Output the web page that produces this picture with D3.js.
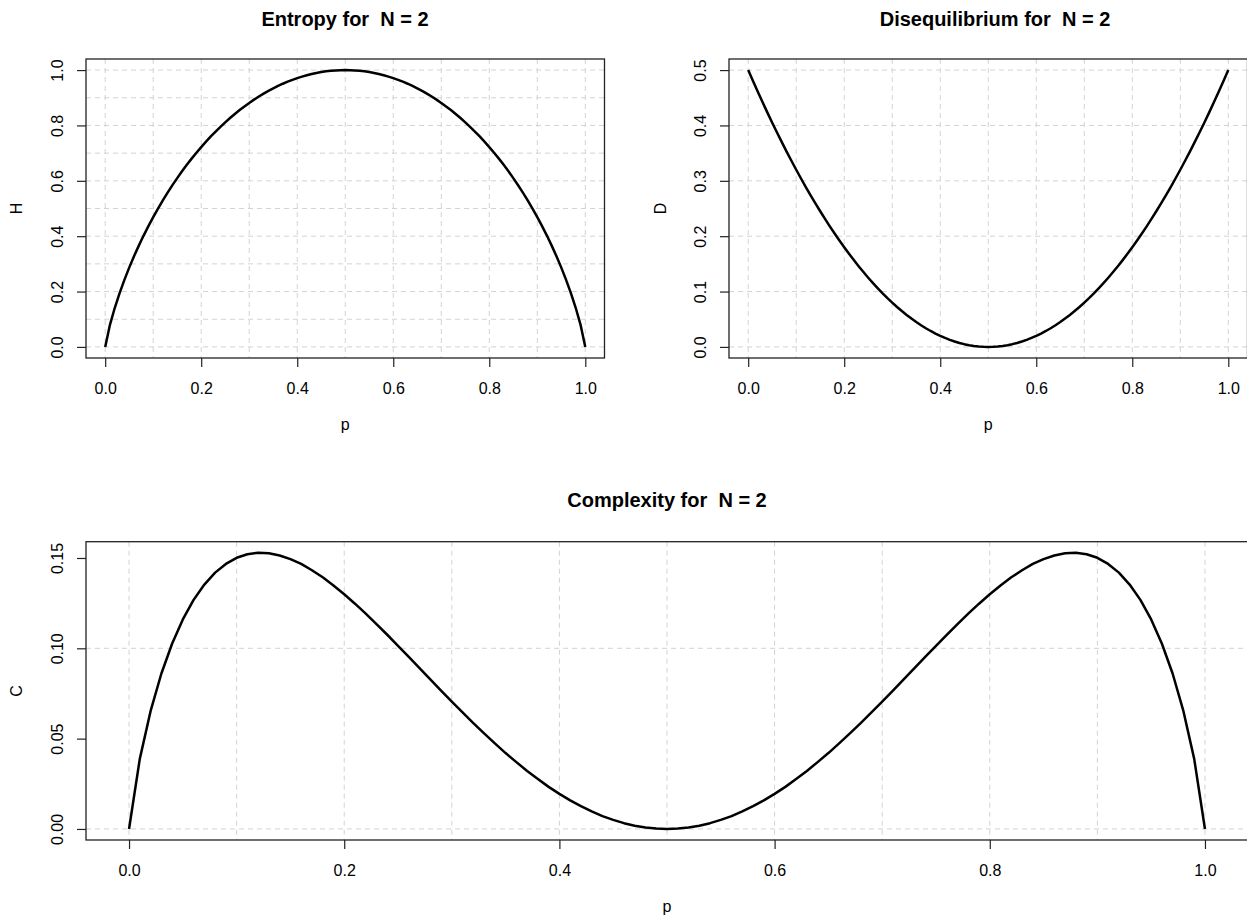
<!DOCTYPE html>
<html>
<head>
<meta charset="utf-8">
<script src="https://cdn.jsdelivr.net/npm/d3@7"></script>
<style>
body { margin: 0; background: #fff; }
svg text { font-family: "Liberation Sans", Arial, sans-serif; fill: #000; white-space: pre; }
</style>
</head>
<body>
<script>
//probability of the first state, sampled in steps of 0.01
var pValues = [
    0.00, 0.01, 0.02, 0.03, 0.04, 0.05, 0.06, 0.07, 0.08, 0.09,
    0.10, 0.11, 0.12, 0.13, 0.14, 0.15, 0.16, 0.17, 0.18, 0.19,
    0.20, 0.21, 0.22, 0.23, 0.24, 0.25, 0.26, 0.27, 0.28, 0.29,
    0.30, 0.31, 0.32, 0.33, 0.34, 0.35, 0.36, 0.37, 0.38, 0.39,
    0.40, 0.41, 0.42, 0.43, 0.44, 0.45, 0.46, 0.47, 0.48, 0.49,
    0.50,
    0.51, 0.52, 0.53, 0.54, 0.55, 0.56, 0.57, 0.58, 0.59, 0.60,
    0.61, 0.62, 0.63, 0.64, 0.65, 0.66, 0.67, 0.68, 0.69, 0.70,
    0.71, 0.72, 0.73, 0.74, 0.75, 0.76, 0.77, 0.78, 0.79, 0.80,
    0.81, 0.82, 0.83, 0.84, 0.85, 0.86, 0.87, 0.88, 0.89, 0.90,
    0.91, 0.92, 0.93, 0.94, 0.95, 0.96, 0.97, 0.98, 0.99, 1.00
];

//entropy H
var entropyValues = [
    0.0000, 0.0808, 0.1414, 0.1944, 0.2423, 0.2864, 0.3274, 0.3659, 0.4022, 0.4365,
    0.4690, 0.4999, 0.5294, 0.5574, 0.5842, 0.6098, 0.6343, 0.6577, 0.6801, 0.7015,
    0.7219, 0.7415, 0.7602, 0.7780, 0.7950, 0.8113, 0.8267, 0.8415, 0.8555, 0.8687,
    0.8813, 0.8932, 0.9044, 0.9149, 0.9248, 0.9341, 0.9427, 0.9507, 0.9580, 0.9648,
    0.9710, 0.9765, 0.9815, 0.9858, 0.9896, 0.9928, 0.9954, 0.9974, 0.9988, 0.9997,
    1.0000,
    0.9997, 0.9988, 0.9974, 0.9954, 0.9928, 0.9896, 0.9858, 0.9815, 0.9765, 0.9710,
    0.9648, 0.9580, 0.9507, 0.9427, 0.9341, 0.9248, 0.9149, 0.9044, 0.8932, 0.8813,
    0.8687, 0.8555, 0.8415, 0.8267, 0.8113, 0.7950, 0.7780, 0.7602, 0.7415, 0.7219,
    0.7015, 0.6801, 0.6577, 0.6343, 0.6098, 0.5842, 0.5574, 0.5294, 0.4999, 0.4690,
    0.4365, 0.4022, 0.3659, 0.3274, 0.2864, 0.2423, 0.1944, 0.1414, 0.0808, 0.0000
];

//disequilibrium D
var disequilibriumValues = [
    0.5000, 0.4802, 0.4608, 0.4418, 0.4232, 0.4050, 0.3872, 0.3698, 0.3528, 0.3362,
    0.3200, 0.3042, 0.2888, 0.2738, 0.2592, 0.2450, 0.2312, 0.2178, 0.2048, 0.1922,
    0.1800, 0.1682, 0.1568, 0.1458, 0.1352, 0.1250, 0.1152, 0.1058, 0.0968, 0.0882,
    0.0800, 0.0722, 0.0648, 0.0578, 0.0512, 0.0450, 0.0392, 0.0338, 0.0288, 0.0242,
    0.0200, 0.0162, 0.0128, 0.0098, 0.0072, 0.0050, 0.0032, 0.0018, 0.0008, 0.0002,
    0.0000,
    0.0002, 0.0008, 0.0018, 0.0032, 0.0050, 0.0072, 0.0098, 0.0128, 0.0162, 0.0200,
    0.0242, 0.0288, 0.0338, 0.0392, 0.0450, 0.0512, 0.0578, 0.0648, 0.0722, 0.0800,
    0.0882, 0.0968, 0.1058, 0.1152, 0.1250, 0.1352, 0.1458, 0.1568, 0.1682, 0.1800,
    0.1922, 0.2048, 0.2178, 0.2312, 0.2450, 0.2592, 0.2738, 0.2888, 0.3042, 0.3200,
    0.3362, 0.3528, 0.3698, 0.3872, 0.4050, 0.4232, 0.4418, 0.4608, 0.4802, 0.5000
];

//complexity C
var complexityValues = [
    0.0000, 0.0388, 0.0652, 0.0859, 0.1025, 0.1160, 0.1268, 0.1353, 0.1419, 0.1467,
    0.1501, 0.1521, 0.1529, 0.1526, 0.1514, 0.1494, 0.1467, 0.1432, 0.1393, 0.1348,
    0.1299, 0.1247, 0.1192, 0.1134, 0.1075, 0.1014, 0.0952, 0.0890, 0.0828, 0.0766,
    0.0705, 0.0645, 0.0586, 0.0529, 0.0474, 0.0420, 0.0370, 0.0321, 0.0276, 0.0233,
    0.0194, 0.0158, 0.0126, 0.0097, 0.0071, 0.0050, 0.0032, 0.0018, 0.0008, 0.0002,
    0.0000,
    0.0002, 0.0008, 0.0018, 0.0032, 0.0050, 0.0071, 0.0097, 0.0126, 0.0158, 0.0194,
    0.0233, 0.0276, 0.0321, 0.0370, 0.0420, 0.0474, 0.0529, 0.0586, 0.0645, 0.0705,
    0.0766, 0.0828, 0.0890, 0.0952, 0.1014, 0.1075, 0.1134, 0.1192, 0.1247, 0.1299,
    0.1348, 0.1393, 0.1432, 0.1467, 0.1494, 0.1514, 0.1526, 0.1529, 0.1521, 0.1501,
    0.1467, 0.1419, 0.1353, 0.1268, 0.1160, 0.1025, 0.0859, 0.0652, 0.0388, 0.0000
];

//tick labels and grid positions
var pTicks = [0, 0.2, 0.4, 0.6, 0.8, 1.0];
var hTicks = [0, 0.2, 0.4, 0.6, 0.8, 1.0];
var dTicks = [0, 0.1, 0.2, 0.3, 0.4, 0.5];
var cTicks = [0, 0.05, 0.10, 0.15];
var pGrid = [0, 0.1, 0.2, 0.3, 0.4, 0.5, 0.6, 0.7, 0.8, 0.9, 1.0];
var hGrid = [0, 0.1, 0.2, 0.3, 0.4, 0.5, 0.6, 0.7, 0.8, 0.9, 1.0];
var dGrid = [0, 0.1, 0.2, 0.3, 0.4, 0.5];
var cGrid = [0, 0.1];

window.onload = setChart();

function setChart() {

    var width = 1247,
        height = 922;

    var svg = d3.select("body")
        .append("svg")
        .attr("width", width)
        .attr("height", height);

    //entropy panel
    drawPanel(svg, {
        left: 86, right: 604.5, top: 59, bottom: 358,
        values: entropyValues, yTicks: hTicks, yGrid: hGrid, yFormat: ".1f",
        title: "Entropy for  N = 2", titleX: 345, titleY: 26,
        yLabel: "H", yLabelX: 22
    });

    //disequilibrium panel
    drawPanel(svg, {
        left: 729, right: 1247.5, top: 59, bottom: 358,
        values: disequilibriumValues, yTicks: dTicks, yGrid: dGrid, yFormat: ".1f",
        title: "Disequilibrium for  N = 2", titleX: 995, titleY: 26,
        yLabel: "D", yLabelX: 666
    });

    //complexity panel
    drawPanel(svg, {
        left: 86, right: 1248, top: 541.7, bottom: 840,
        values: complexityValues, yTicks: cTicks, yGrid: cGrid, yFormat: ".2f",
        title: "Complexity for  N = 2", titleX: 667, titleY: 507,
        yLabel: "C", yLabelX: 22
    });
}

function drawPanel(svg, cfg) {

    //R style axes: data range padded by 4% on each side
    var yExt = d3.extent(cfg.values),
        yPad = (yExt[1] - yExt[0]) * 0.04;

    var x = d3.scaleLinear()
        .domain([-0.04, 1.04])
        .range([cfg.left, cfg.right]);

    var y = d3.scaleLinear()
        .domain([yExt[0] - yPad, yExt[1] + yPad])
        .range([cfg.bottom, cfg.top]);

    var g = svg.append("g");

    //dashed grid
    g.selectAll(".vgrid")
        .data(pGrid)
        .enter()
        .append("line")
        .attr("class", "vgrid")
        .attr("x1", function(d) { return x(d); })
        .attr("x2", function(d) { return x(d); })
        .attr("y1", cfg.top)
        .attr("y2", cfg.bottom)
        .attr("stroke", "#d3d3d3")
        .attr("stroke-width", 1)
        .attr("stroke-dasharray", "5,4");

    g.selectAll(".hgrid")
        .data(cfg.yGrid)
        .enter()
        .append("line")
        .attr("class", "hgrid")
        .attr("x1", cfg.left)
        .attr("x2", cfg.right)
        .attr("y1", function(d) { return y(d); })
        .attr("y2", function(d) { return y(d); })
        .attr("stroke", "#d3d3d3")
        .attr("stroke-width", 1)
        .attr("stroke-dasharray", "5,4");

    //curve
    var line = d3.line()
        .x(function(d, i) { return x(pValues[i]); })
        .y(function(d) { return y(d); });

    g.append("path")
        .datum(cfg.values)
        .attr("d", line)
        .attr("fill", "none")
        .attr("stroke", "#000")
        .attr("stroke-width", 2.5)
        .attr("stroke-linejoin", "round");

    //plot box
    g.append("rect")
        .attr("x", cfg.left)
        .attr("y", cfg.top)
        .attr("width", cfg.right - cfg.left)
        .attr("height", cfg.bottom - cfg.top)
        .attr("fill", "none")
        .attr("stroke", "#222")
        .attr("stroke-width", 1.3);

    //x axis
    var gx = g.append("g")
        .attr("transform", "translate(0," + cfg.bottom + ")")
        .call(d3.axisBottom(x).tickValues(pTicks).tickSize(9).tickFormat(d3.format(".1f")))
        .attr("font-family", null)
        .attr("font-size", 16);
    gx.select(".domain").remove();
    gx.selectAll(".tick line").attr("stroke", "#222").attr("stroke-width", 1.2);
    gx.selectAll(".tick text")
        .attr("y", 36)
        .attr("dy", null);

    //y axis with rotated labels
    var gy = g.append("g")
        .attr("transform", "translate(" + cfg.left + ",0)")
        .call(d3.axisLeft(y).tickValues(cfg.yTicks).tickSize(9).tickFormat(d3.format(cfg.yFormat)))
        .attr("font-family", null)
        .attr("font-size", 16);
    gy.select(".domain").remove();
    gy.selectAll(".tick line").attr("stroke", "#222").attr("stroke-width", 1.2);
    gy.selectAll(".tick text")
        .attr("x", 0)
        .attr("y", -23.5)
        .attr("dy", null)
        .attr("text-anchor", "middle")
        .attr("transform", "rotate(-90)");

    //titles
    g.append("text")
        .attr("x", cfg.titleX)
        .attr("y", cfg.titleY)
        .attr("text-anchor", "middle")
        .attr("font-size", 20)
        .attr("font-weight", "bold")
        .text(cfg.title);

    g.append("text")
        .attr("x", (cfg.left + cfg.right) / 2)
        .attr("y", cfg.bottom + 72)
        .attr("text-anchor", "middle")
        .attr("font-size", 16)
        .text("p");

    g.append("text")
        .attr("transform", "translate(" + cfg.yLabelX + "," + (cfg.top + cfg.bottom) / 2 + ") rotate(-90)")
        .attr("text-anchor", "middle")
        .attr("font-size", 16)
        .text(cfg.yLabel);
}
</script>
</body>
</html>
